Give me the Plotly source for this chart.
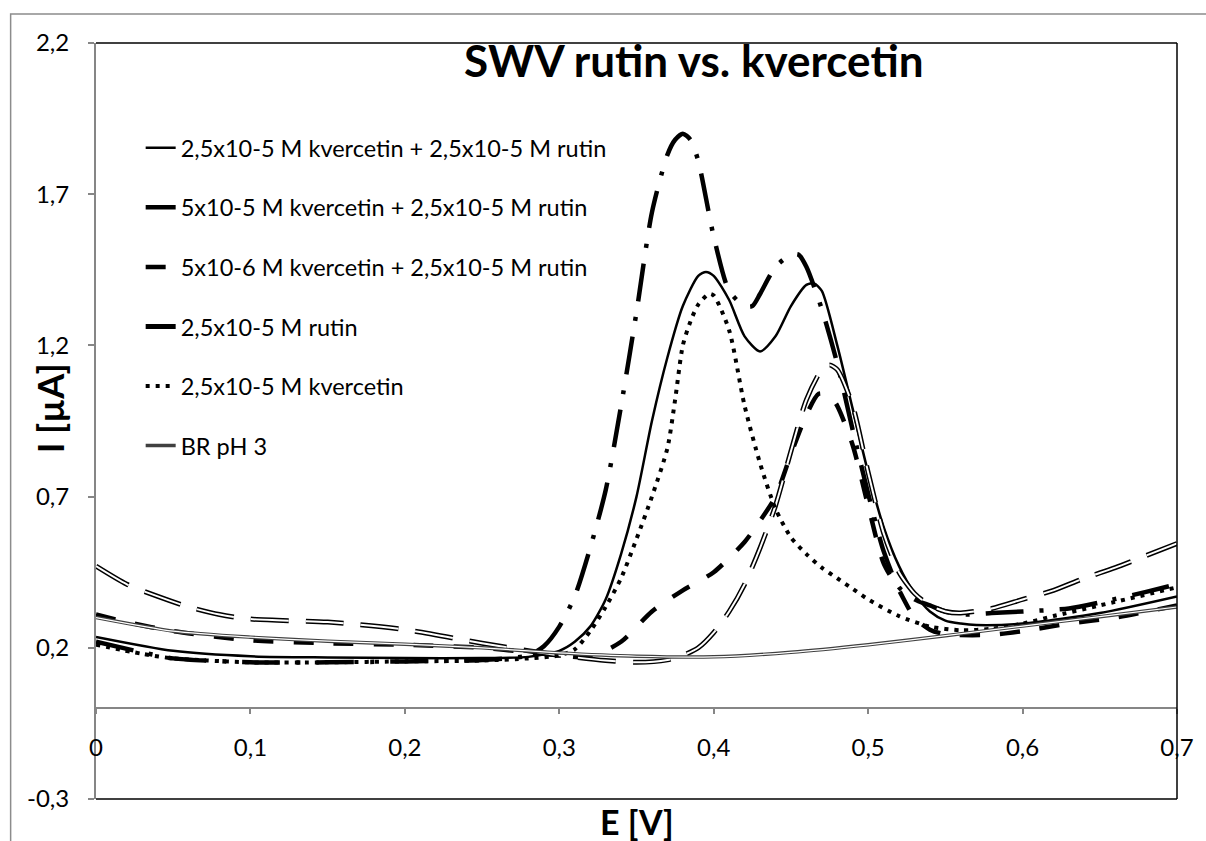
import plotly.graph_objects as go

# ---------------- data ----------------
x_mix1 = [0, 0.05, 0.1, 0.15, 0.2, 0.25, 0.28, 0.3, 0.31, 0.32, 0.33, 0.34, 0.35, 0.36, 0.37, 0.38,
          0.39, 0.395, 0.40, 0.41, 0.42, 0.43, 0.44, 0.45, 0.46, 0.465, 0.47, 0.48, 0.49, 0.50, 0.51,
          0.52, 0.53, 0.54, 0.55, 0.56, 0.57, 0.6, 0.65, 0.7]
y_mix1 = [0.236, 0.19, 0.172, 0.168, 0.166, 0.166, 0.17, 0.19, 0.22, 0.27, 0.36, 0.51, 0.70, 0.95,
          1.16, 1.33, 1.43, 1.443, 1.43, 1.35, 1.23, 1.18, 1.23, 1.33, 1.40, 1.405, 1.38, 1.20, 0.99,
          0.78, 0.60, 0.47, 0.38, 0.32, 0.29, 0.28, 0.275, 0.28, 0.315, 0.37]

x_mix2 = [0, 0.03, 0.05, 0.1, 0.15, 0.2, 0.25, 0.28, 0.29, 0.30, 0.31, 0.32, 0.33, 0.34, 0.35, 0.36,
          0.37, 0.375, 0.38, 0.385, 0.39, 0.40, 0.41, 0.42, 0.425, 0.43, 0.44, 0.45, 0.455, 0.46, 0.47,
          0.48, 0.49, 0.50, 0.51, 0.52, 0.53, 0.54, 0.55, 0.56, 0.58, 0.6, 0.63, 0.65, 0.68, 0.7]
y_mix2 = [0.22, 0.185, 0.165, 0.152, 0.152, 0.155, 0.16, 0.175, 0.205, 0.27, 0.37, 0.53, 0.72, 1.0,
          1.31, 1.64, 1.83, 1.88, 1.90, 1.88, 1.81, 1.56, 1.38, 1.33, 1.33, 1.37, 1.46, 1.50, 1.50,
          1.46, 1.32, 1.14, 0.92, 0.71, 0.52, 0.40, 0.36, 0.34, 0.32, 0.31, 0.315, 0.32, 0.33, 0.35,
          0.385, 0.41]

x_mix3 = [0, 0.02, 0.05, 0.1, 0.15, 0.2, 0.25, 0.28, 0.3, 0.32, 0.34, 0.36, 0.38, 0.40, 0.42, 0.43,
          0.44, 0.45, 0.46, 0.468, 0.475, 0.48, 0.49, 0.50, 0.51, 0.52, 0.53, 0.54, 0.55, 0.58, 0.6,
          0.63, 0.66, 0.7]
y_mix3 = [0.31, 0.285, 0.255, 0.225, 0.215, 0.21, 0.20, 0.185, 0.175, 0.17, 0.22, 0.32, 0.39, 0.45,
          0.55, 0.62, 0.70, 0.84, 0.97, 1.04, 1.035, 1.0, 0.87, 0.67, 0.48, 0.39, 0.30, 0.26, 0.245,
          0.243, 0.255, 0.28, 0.30, 0.34]

x_rut = [0, 0.02, 0.04, 0.06, 0.08, 0.1, 0.15, 0.2, 0.25, 0.3, 0.33, 0.35, 0.37, 0.38, 0.39, 0.40,
         0.41, 0.42, 0.43, 0.44, 0.45, 0.46, 0.47, 0.475, 0.48, 0.49, 0.50, 0.51, 0.52, 0.53, 0.54,
         0.55, 0.56, 0.58, 0.6, 0.62, 0.64, 0.66, 0.68, 0.7]
y_rut = [0.47, 0.41, 0.37, 0.335, 0.31, 0.295, 0.285, 0.26, 0.215, 0.175, 0.158, 0.152, 0.16, 0.175,
         0.20, 0.25, 0.32, 0.41, 0.53, 0.67, 0.85, 1.02, 1.12, 1.135, 1.12, 1.0, 0.78, 0.58, 0.45,
         0.38, 0.34, 0.32, 0.315, 0.33, 0.36, 0.39, 0.43, 0.465, 0.505, 0.545]

x_kv = [0, 0.03, 0.05, 0.1, 0.15, 0.2, 0.25, 0.28, 0.3, 0.31, 0.32, 0.33, 0.34, 0.35, 0.36, 0.37,
        0.375, 0.38, 0.385, 0.39, 0.397, 0.40, 0.41, 0.42, 0.43, 0.44, 0.45, 0.46, 0.47, 0.48, 0.49,
        0.50, 0.52, 0.54, 0.56, 0.58, 0.6, 0.62, 0.65, 0.7]
y_kv = [0.21, 0.18, 0.165, 0.152, 0.152, 0.155, 0.158, 0.165, 0.175, 0.195, 0.255, 0.335, 0.43, 0.56,
        0.70, 0.86, 1.02, 1.20, 1.28, 1.335, 1.37, 1.365, 1.25, 1.00, 0.81, 0.66, 0.565, 0.51, 0.465,
        0.43, 0.395, 0.36, 0.305, 0.27, 0.258, 0.263, 0.28, 0.305, 0.34, 0.40]

x_br = [0, 0.05, 0.1, 0.15, 0.2, 0.25, 0.3, 0.35, 0.4, 0.45, 0.5, 0.55, 0.6, 0.65, 0.7]
y_br = [0.30, 0.255, 0.235, 0.222, 0.212, 0.20, 0.183, 0.172, 0.17, 0.185, 0.21, 0.24, 0.272,
        0.303, 0.335]

names = ["2,5x10-5 M kvercetin + 2,5x10-5 M rutin",
         "5x10-5 M kvercetin + 2,5x10-5 M rutin",
         "5x10-6 M kvercetin + 2,5x10-5 M rutin",
         "2,5x10-5 M rutin",
         "2,5x10-5 M kvercetin",
         "BR pH 3"]

y_tickvals = [-0.3, 0.2, 0.7, 1.2, 1.7, 2.2]
y_ticktext = ["-0,3", "0,2", "0,7", "1,2", "1,7", "2,2"]
x_tickvals = [0, 0.1, 0.2, 0.3, 0.4, 0.5, 0.6, 0.7]
x_ticktext = ["0", "0,1", "0,2", "0,3", "0,4", "0,5", "0,6", "0,7"]

title_text = "SWV rutin vs. kvercetin"
x_title = "E [V]"
y_title = "I [µA]"

# ---------------- figure ----------------
FONT = "Lato"
fig = go.Figure()

def add(x, y, name, color, width, dash, group, showlegend=True):
    fig.add_trace(go.Scatter(
        x=x, y=y, name=name, mode="lines",
        line=dict(color=color, width=width, dash=dash, shape="spline", smoothing=0.7),
        legendgroup=group, showlegend=showlegend, hoverinfo="skip"))

add(x_mix1, y_mix1, names[0], "black", 2.5, "solid", "g1")
add(x_mix2, y_mix2, names[1], "black", 4.5, "38px,16px,4px,16px", "g2")
add(x_mix3, y_mix3, names[2], "black", 4.5, "20px,20px", "g3")
add(x_rut, y_rut, names[3], "black", 5, "38px,17px", "g4")
add(x_rut, y_rut, names[3], "white", 2, "38px,17px", "g4", showlegend=False)
add(x_kv, y_kv, names[4], "black", 4, "4px,6px", "g5")
add(x_br, y_br, names[5], "#404040", 3.5, "solid", "g6")
add(x_br, y_br, names[5], "white", 1.2, "solid", "g6", showlegend=False)

L, R, T, B = 96, 21, 43, 42
W, H = 1206, 841
pw, ph = W - L - R, H - T - B

def px(xp):
    return (xp - L) / pw

def py(yp):
    return (H - B - yp) / ph

fig.update_layout(
    width=W, height=H,
    margin=dict(l=L, r=R, t=T, b=B, pad=0),
    paper_bgcolor="white", plot_bgcolor="white",
    font=dict(family=FONT, color="black"),
    showlegend=True,
    legend=dict(x=px(141), y=py(126), xanchor="left", yanchor="top",
                bgcolor="rgba(0,0,0,0)", font=dict(size=23.5, family=FONT),
                tracegroupgap=26, itemwidth=30),
    xaxis=dict(range=[0, 0.7], anchor="free", position=0.3 / 2.5,
               tickvals=x_tickvals, ticktext=x_ticktext,
               ticks="outside", ticklen=5, tickcolor="#868686", tickwidth=1.5,
               showline=True, linecolor="#868686", linewidth=1.5,
               showgrid=False, zeroline=False,
               tickfont=dict(size=24, family=FONT), ticklabelstandoff=13),
    yaxis=dict(range=[-0.3, 2.2], tickvals=y_tickvals, ticktext=y_ticktext,
               ticks="outside", ticklen=6, tickcolor="#868686", tickwidth=1.5,
               showline=True, linecolor="#868686", linewidth=2,
               showgrid=False, zeroline=False,
               tickfont=dict(size=24, family=FONT), ticklabelstandoff=14),
    shapes=[
        dict(type="line", xref="paper", yref="paper", x0=0, x1=1, y0=1, y1=1,
             line=dict(color="black", width=1.5)),
        dict(type="line", xref="paper", yref="paper", x0=1, x1=1, y0=0, y1=1,
             line=dict(color="black", width=1.5)),
        dict(type="line", xref="paper", yref="paper", x0=0, x1=1, y0=0, y1=0,
             line=dict(color="black", width=1.5)),
        dict(type="rect", xref="paper", yref="paper", x0=px(10), x1=px(1215),
             y0=py(850), y1=py(14), line=dict(color="#8c8c8c", width=1.5), layer="below"),
    ],
    annotations=[
        dict(text=f"<b>{title_text}</b>", xref="paper", yref="paper", x=px(698), y=py(60),
             xanchor="center", yanchor="middle", showarrow=False,
             font=dict(size=44, family=FONT, color="black")),
        dict(text=f"<b>{x_title}</b>", xref="paper", yref="paper", x=0.5, y=py(821),
             xanchor="center", yanchor="middle", showarrow=False,
             font=dict(size=34, family=FONT, color="black")),
        dict(text=f"<b>{y_title}</b>", xref="paper", yref="paper", x=px(50), y=py(408),
             xanchor="center", yanchor="middle", showarrow=False, textangle=-90,
             font=dict(size=36, family=FONT, color="black")),
    ],
)

fig.write_html("out.html")
